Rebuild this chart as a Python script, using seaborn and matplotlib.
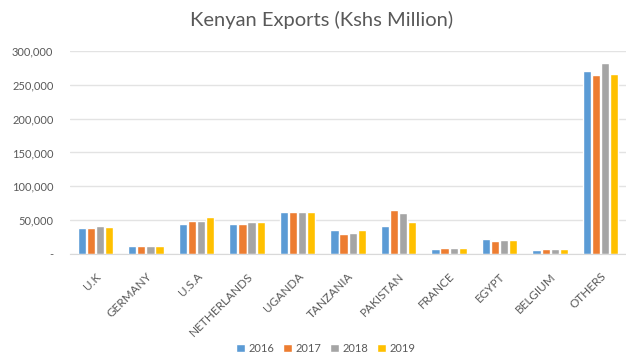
import matplotlib
matplotlib.use("Agg")
import matplotlib.pyplot as plt
import matplotlib.ticker as mticker
import seaborn as sns
import pandas as pd

# Kenyan exports by destination, Kshs million
countries = ["U.K", "GERMANY", "U.S.A", "NETHERLANDS", "UGANDA", "TANZANIA",
             "PAKISTAN", "FRANCE", "EGYPT", "BELGIUM", "OTHERS"]
years = ["2016", "2017", "2018", "2019"]
exports_2016 = [38000, 12000, 44000, 44000, 62500, 36000, 41000, 7000, 22000, 6000, 271000]
exports_2017 = [39000, 12000, 48500, 44500, 62000, 29500, 64500, 8500, 19500, 6800, 265000]
exports_2018 = [41000, 12000, 49000, 47000, 62000, 30500, 61000, 8500, 20500, 7200, 282500]
exports_2019 = [40000, 12000, 54000, 48000, 62500, 36000, 47000, 8500, 20000, 7200, 266000]
colors = ["#5B9BD5", "#ED7D31", "#A5A5A5", "#FFC000"]

rows = []
for year, vals in zip(years, [exports_2016, exports_2017, exports_2018, exports_2019]):
    for c, v in zip(countries, vals):
        rows.append({"Country": c, "Year": year, "Value": v})
df = pd.DataFrame(rows)

sns.set_style("white")
plt.rcParams["font.family"] = ["Lato", "DejaVu Sans"]

fig = plt.figure(figsize=(6.26, 3.56), dpi=100)
ax = fig.add_axes([0.112, 0.2865, 0.888, 0.5705])

sns.barplot(data=df, x="Country", y="Value", hue="Year", order=countries,
            hue_order=years, palette=colors, width=0.72, gap=0.1,
            saturation=1, ax=ax, legend=True)

ax.set_ylim(0, 300000)
ax.set_xlim(-0.5, len(countries) - 0.5)
ax.yaxis.set_major_locator(mticker.MultipleLocator(50000))
ax.yaxis.set_major_formatter(mticker.FuncFormatter(
    lambda v, p: "-" if v == 0 else f"{int(v):,}"))
ax.grid(axis="y", color="#E3E3E3", linewidth=1)
ax.set_axisbelow(True)
for s in ["top", "right", "left"]:
    ax.spines[s].set_visible(False)
ax.spines["bottom"].set_color("#D9D9D9")
ax.set_xlabel("")
ax.set_ylabel("")
ax.tick_params(axis="y", length=0, labelsize=8, colors="#595959", pad=12)
ax.tick_params(axis="x", length=0, labelsize=8.5, colors="#595959", pad=12)
plt.setp(ax.get_xticklabels(), rotation=45, ha="right", rotation_mode="anchor")

fig.text(0.513, 0.943, "Kenyan Exports (Kshs Million)", ha="center", va="center",
         fontsize=14.5, color="#595959")

handles, labels = ax.get_legend_handles_labels()
ax.legend_.remove()
fig.legend(handles, labels, loc="center", bbox_to_anchor=(0.52, 0.022), ncol=4,
           frameon=False, fontsize=8, labelcolor="#595959", handlelength=0.8,
           handleheight=0.8, handletextpad=0.3, columnspacing=0.8)

fig.savefig("out.png", dpi=100)
